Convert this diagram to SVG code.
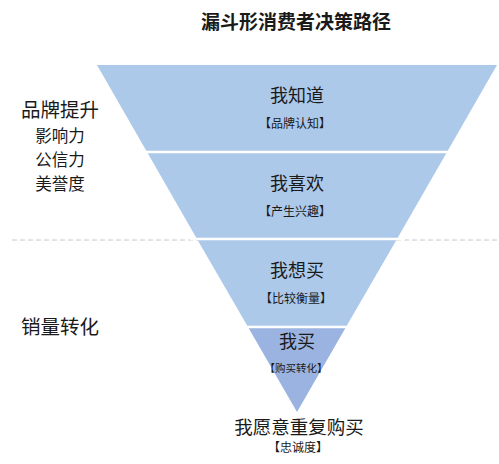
<svg xmlns="http://www.w3.org/2000/svg" width="499" height="464" viewBox="0 0 499 464">
<style>
text{font-family:"Noto Sans CJK SC","Noto Sans",sans-serif;fill:#1a1a1a;text-anchor:middle}
.band{fill:#adc9ea}
.dark{fill:#9ab3e0}
.sep{stroke:#ffffff;stroke-width:2.5}
.t{font-size:18px}
.s{font-size:12px}
.l{font-size:19.5px}
.m{font-size:16.5px}
</style>
<rect width="499" height="464" fill="#ffffff"/>
<text x="296" y="29" style="font-size:19px;font-weight:bold">漏斗形消费者决策路径</text>
<g id="connectors">
<line x1="12" y1="240" x2="497" y2="240" stroke="#c8c8c8" stroke-width="1" stroke-dasharray="5,3"/>
</g>
<g id="band1">
<polygon class="band" points="97,65 497,65 447,152 147,152"/>
<text class="t" x="297" y="102">我知道</text>
<text class="s" x="295" y="128">【品牌认知】</text>
</g>
<g id="band2">
<polygon class="band" points="147,152 447,152 397,239 197,239"/>
<text class="t" x="297" y="190">我喜欢</text>
<text class="s" x="295" y="216">【产生兴趣】</text>
</g>
<g id="band3">
<polygon class="band" points="197,239 397,239 346,327 248,327"/>
<text class="t" x="297" y="277">我想买</text>
<text class="s" x="296" y="303">【比较衡量】</text>
</g>
<g id="band4">
<polygon class="dark" points="248,327 346,327 297,412"/>
<text class="t" x="297" y="348">我买</text>
<text x="296" y="372" style="font-size:10.5px">【购买转化】</text>
</g>
<line class="sep" x1="140" y1="152" x2="455" y2="152"/>
<line class="sep" x1="190" y1="239" x2="405" y2="239"/>
<line class="sep" x1="240" y1="327" x2="355" y2="327"/>
<g id="loyalty">
<text x="299" y="434" style="font-size:18.5px">我愿意重复购买</text>
<text class="s" x="298" y="452">【忠诚度】</text>
</g>
<g id="brand">
<text class="l" x="60" y="117">品牌提升</text>
<text class="m" x="60" y="142">影响力</text>
<text class="m" x="60" y="166">公信力</text>
<text class="m" x="60" y="190">美誉度</text>
</g>
<g id="sales">
<text class="l" x="60" y="334">销量转化</text>
</g>
</svg>
